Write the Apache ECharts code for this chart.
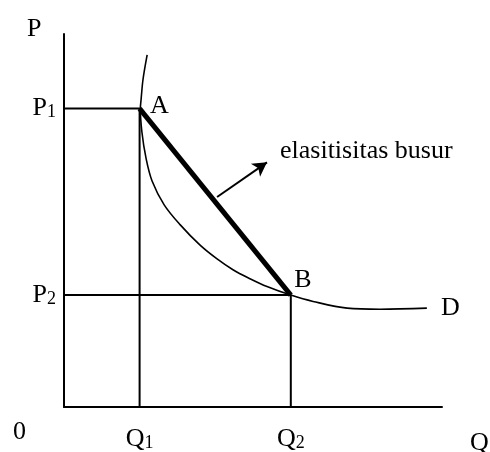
<!DOCTYPE html>
<html>
<head>
<meta charset="utf-8">
<script src="https://cdn.jsdelivr.net/npm/echarts@6/dist/echarts.min.js"></script>
<style>
  html, body { margin: 0; padding: 0; background: #fff; }
  #chart { width: 490px; height: 452px; }
</style>
</head>
<body>
<div id="chart"></div>
<script>
// demand curve D (Q, P)
const curveQ = [2.2, 2.09, 2.04, 2.02, 2.06, 2.17, 2.33, 2.65, 3.07, 3.6, 4.05, 4.47, 4.92, 5.37, 6.0, 6.59, 7.49, 8.36, 9.6]
const curveP = [9.44, 8.78, 8.25, 8.0, 7.38, 6.67, 6.06, 5.42, 4.89, 4.34, 3.97, 3.68, 3.44, 3.23, 3.0, 2.83, 2.65, 2.62, 2.65]
// points A and B
const pointNames = ['A', 'B']
const pointQ = [2, 6]
const pointP = [8, 3]
// tick labels
const qTicks = [2, 6]
const qLabels = ['Q1', 'Q2']
const pTicks = [3, 8]
const pLabels = ['P2', 'P1']
// arrow for "elasitisitas busur"
const arrowFrom = [4.05, 5.63]
const arrowTo = [5.37, 6.56]
const arrowText = 'elasitisitas busur'

const FONT = 'Liberation Serif'
const FS = 26
const BLACK = '#000'

const richSub = {
  b: { fontFamily: FONT, fontSize: FS, color: BLACK, verticalAlign: 'bottom', lineHeight: 26 },
  s: { fontFamily: FONT, fontSize: 18, color: BLACK, verticalAlign: 'bottom', lineHeight: 21 }
}
const subFmt = (ticks, labels) => v => {
  let i = ticks.indexOf(v)
  if (i < 0) return ''
  let t = labels[i]
  return '{b|' + t[0] + '}{s|' + t.slice(1) + '}'
}

const guide = (q, p) => ({
  type: 'line',
  data: [[0, p], [q, p], [q, 0]],
  symbol: 'none',
  silent: true,
  lineStyle: { color: BLACK, width: 2 }
})

// label offsets for A and B
const pointLabelOffset = [[5, -2], [-2, -15]]

const chart = echarts.init(document.getElementById('chart'))
chart.setOption({
  animation: false,
  grid: { left: 64, top: 34, width: 378, height: 378 },
  xAxis: {
    type: 'value', min: 0, max: 10,
    splitLine: { show: false },
    axisTick: { show: false },
    axisLine: { lineStyle: { color: BLACK, width: 2 } },
    axisLabel: {
      customValues: qTicks,
      margin: 19,
      formatter: subFmt(qTicks, qLabels),
      rich: richSub
    }
  },
  yAxis: {
    type: 'value', min: 0, max: 10,
    splitLine: { show: false },
    axisTick: { show: false },
    axisLine: { lineStyle: { color: BLACK, width: 2 } },
    axisLabel: {
      customValues: pTicks,
      margin: 8,
      formatter: subFmt(pTicks, pLabels),
      rich: richSub
    }
  },
  graphic: [
    { type: 'text', left: 27, top: 16, style: { text: 'P', font: FS + 'px ' + FONT, fill: BLACK } },
    { type: 'text', left: 470, top: 430, style: { text: 'Q', font: FS + 'px ' + FONT, fill: BLACK } },
    { type: 'text', left: 13, top: 419, style: { text: '0', font: FS + 'px ' + FONT, fill: BLACK } },
    { type: 'text', left: 280, top: 138, style: { text: arrowText, font: FS + 'px ' + FONT, fill: BLACK } }
  ],
  series: [
    guide(pointQ[0], pointP[0]),
    guide(pointQ[1], pointP[1]),
    {
      type: 'line',
      data: curveQ.map((q, i) => [q, curveP[i]]),
      smooth: 0.35,
      symbol: 'none',
      lineStyle: { color: BLACK, width: 1.6 },
      endLabel: {
        show: true,
        formatter: 'D',
        distance: 14,
        fontFamily: FONT, fontSize: FS, color: BLACK
      }
    },
    {
      type: 'line',
      data: pointQ.map((q, i) => ({
        value: [q, pointP[i]],
        name: pointNames[i],
        label: { offset: pointLabelOffset[i] }
      })),
      symbol: 'circle',
      symbolSize: 1,
      itemStyle: { color: BLACK },
      lineStyle: { color: BLACK, width: 5 },
      label: {
        show: true,
        formatter: '{b}',
        fontFamily: FONT, fontSize: FS, color: BLACK,
        position: 'right'
      },
      markLine: {
        silent: true,
        symbol: ['none', 'arrow'],
        symbolSize: [12, 14],
        label: { show: false },
        lineStyle: { color: BLACK, width: 2, type: 'solid' },
        data: [[{ coord: arrowFrom }, { coord: arrowTo }]]
      }
    }
  ]
})
</script>
</body>
</html>
